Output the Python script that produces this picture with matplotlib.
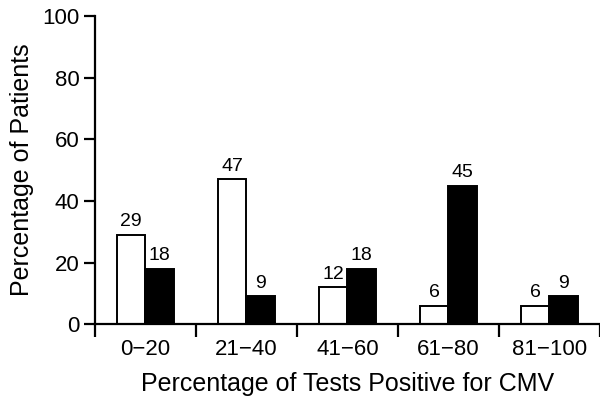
import numpy as np
import matplotlib.pyplot as plt

plt.rcParams['font.family'] = ['Liberation Sans', 'DejaVu Sans']

categories = ['0\u221220', '21\u221240', '41\u221260', '61\u221280', '81\u2212100']
white_vals = [29, 47, 12, 6, 6]
black_vals = [18, 9, 18, 45, 9]

fig = plt.figure(figsize=(6, 4.13), dpi=100)
ax = fig.add_axes([0.158, 0.215, 0.842, 0.746])

x = np.arange(len(categories))
w = 0.285
ax.bar(x - w, white_vals, width=w, align='edge', color='white', edgecolor='black', linewidth=1.4)
ax.bar(x, black_vals, width=w, align='edge', color='black', edgecolor='black', linewidth=1.4)

for i in range(len(categories)):
    ax.text(x[i] - w / 2, white_vals[i] + 1.5, str(white_vals[i]), ha='center', va='bottom', fontsize=14)
    ax.text(x[i] + w / 2, black_vals[i] + 1.5, str(black_vals[i]), ha='center', va='bottom', fontsize=14)

ax.set_xlim(-0.5, 4.5)
ax.set_ylim(0, 100)
ax.set_yticks([0, 20, 40, 60, 80, 100])
ax.tick_params(axis='y', labelsize=16, width=1.6, length=8, pad=3)

# group boundary ticks, labels at centres
ax.set_xticks(np.arange(-0.5, 5, 1))
ax.set_xticklabels([])
ax.tick_params(axis='x', which='major', direction='out', width=1.6, length=9)
ax.set_xticks(x, minor=True)
ax.set_xticklabels(categories, minor=True, fontsize=16)
ax.tick_params(axis='x', which='minor', length=0, pad=11)

for s in ['top', 'right']:
    ax.spines[s].set_visible(False)
for s in ['left', 'bottom']:
    ax.spines[s].set_linewidth(1.6)
ax.spines['left'].set_bounds(0, 100)

ax.set_ylabel('Percentage of Patients', fontsize=18, labelpad=6)
ax.set_xlabel('Percentage of Tests Positive for CMV', fontsize=18, labelpad=8)

fig.savefig('out.png', dpi=100)
